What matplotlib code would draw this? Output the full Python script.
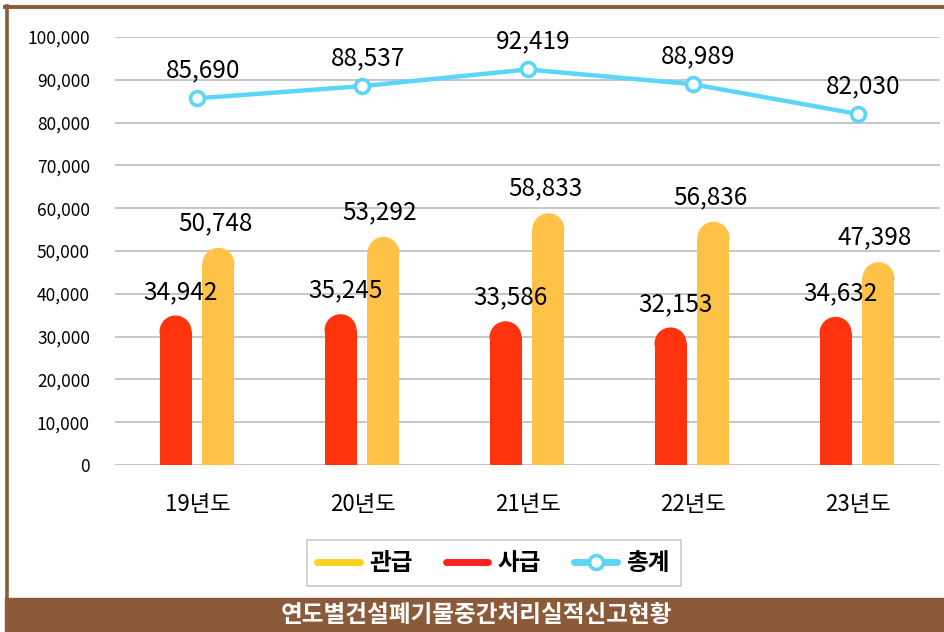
import matplotlib.pyplot as plt
from matplotlib.patches import Ellipse, Rectangle
from matplotlib.lines import Line2D

plt.rcParams['font.family'] = ['Noto Sans CJK KR', 'DejaVu Sans']

# 데이터
years = ['19년도', '20년도', '21년도', '22년도', '23년도']
gwan = [50748, 53292, 58833, 56836, 47398]   # 관급
sa = [34942, 35245, 33586, 32153, 34632]     # 사급
total = [85690, 88537, 92419, 88989, 82030]  # 총계

c_gwan = '#FFC247'
c_sa = '#FF330D'
c_line = '#5DD5F7'

fig = plt.figure(figsize=(9.44, 6.32), dpi=100)
ax = fig.add_axes([0.1218, 0.2642, 0.8740, 0.6772])

ymax = 100000
ax.set_xlim(-0.5, 4.5)
ax.set_ylim(0, ymax)

# 막대 (둥근 윗부분)
w = 0.194
ax_h_px = 0.6772 * 632
ry = (w * 165 / 2) * ymax / ax_h_px  # 반원 반지름 (y축 단위)
x = list(range(len(years)))
for vals, col, off in [(sa, c_sa, -0.133), (gwan, c_gwan, 0.127)]:
    for xi, v in zip(x, vals):
        ax.bar(xi + off, v - ry, width=w, color=col, lw=0, zorder=2)
        ax.add_patch(Ellipse((xi + off, v - ry), w, 2 * ry, facecolor=col, lw=0, zorder=2))

# 막대 라벨
for xi, v in zip(x, sa):
    ax.annotate(f'{v:,}', (xi - 0.133 + 0.03, v), xytext=(0, 17), textcoords='offset points',
                ha='center', va='center', fontsize=17.5, zorder=4)
for xi, v in zip(x, gwan):
    ax.annotate(f'{v:,}', (xi + 0.127 - 0.02, v), xytext=(0, 18), textcoords='offset points',
                ha='center', va='center', fontsize=17.5, zorder=4)

# 총계 선
ax.plot(x, total, color=c_line, lw=3.2, marker='o', ms=10, mfc='white',
        mec=c_line, mew=2.6, zorder=3)
for xi, v in zip(x, total):
    ax.annotate(f'{v:,}', (xi + 0.036, v), xytext=(0, 20), textcoords='offset points',
                ha='center', va='center', fontsize=17.5, zorder=4)

# 축 꾸미기
ax.set_yticks(range(0, ymax + 1, 10000))
ax.set_yticklabels([f'{t:,}' for t in range(0, ymax + 1, 10000)], fontsize=12.5)
ax.set_xticks(x)
ax.set_xticklabels(years, fontsize=16)
ax.tick_params(axis='y', length=0, pad=18)
ax.tick_params(axis='x', length=0, pad=20)
ax.grid(axis='y', color='#BDBDBD', lw=1.2, zorder=0)
ax.set_axisbelow(True)
for s in ax.spines.values():
    s.set_visible(False)

# 범례
handles = [Line2D([], [], color='#F9D21E', lw=5, solid_capstyle='round'),
           Line2D([], [], color='#FF2020', lw=5, solid_capstyle='round'),
           Line2D([], [], color=c_line, lw=5, solid_capstyle='round', marker='o',
                  ms=10, mfc='white', mec=c_line, mew=2.6)]
leg = fig.legend(handles, ['관급', '사급', '총계'], loc='center',
                 bbox_to_anchor=(0.523, 0.109), ncol=3, fontsize=17, frameon=True,
                 fancybox=False, edgecolor='#BDBDBD', handlelength=1.8,
                 columnspacing=1.4, handletextpad=0.4, borderpad=0.45)
leg.get_frame().set_linewidth(1.2)
for t in leg.get_texts():
    t.set_fontweight('bold')

# 테두리와 하단 제목 띠
brown = '#8B5A38'
fig.add_artist(Rectangle((5 / 944, 0), 1, 34 / 632, transform=fig.transFigure,
                         color=brown, zorder=0))
fig.add_artist(Line2D([5 / 944, 1], [1 - 7 / 632, 1 - 7 / 632], transform=fig.transFigure,
                      color=brown, lw=2.8))
fig.add_artist(Line2D([6.5 / 944, 6.5 / 944], [34 / 632, 1 - 5.5 / 632],
                      transform=fig.transFigure, color=brown, lw=2.6))
fig.text(0.505, 17 / 632, '연도별건설폐기물중간처리실적신고현황', color='white',
         fontsize=17, fontweight='bold', ha='center', va='center')

fig.savefig('out.png', dpi=100)
